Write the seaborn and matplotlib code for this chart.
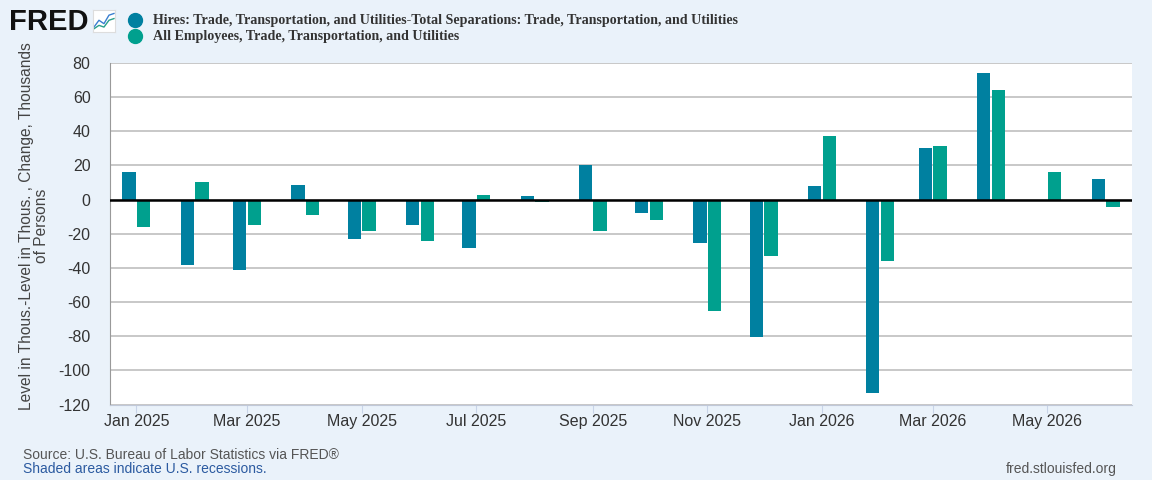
import numpy as np
import pandas as pd
import matplotlib
matplotlib.use("Agg")
import matplotlib.pyplot as plt
import matplotlib.dates as mdates
from matplotlib.lines import Line2D
import seaborn as sns

# monthly values (thousands of persons)
months = pd.date_range("2025-01-01", "2026-06-01", freq="MS")
hires_minus_seps = [16.3, -38.4, -41.4, 8.7, -23.3, -14.6, -28.5, 1.9, 20.4, -7.6,
                    -25.6, -80.2, 7.8, -113.0, 30.3, 74.0, np.nan, 12.2]
emp_change = [-16.3, 10.5, -14.6, -9.3, -18.6, -24.5, 2.5, -1.7, -18.6, -11.7,
              -65.2, -33.2, 37.3, -36.1, 31.5, 64.1, 16.3, -4.5]
tick_dates = ["2025-01-01", "2025-03-01", "2025-05-01", "2025-07-01", "2025-09-01",
              "2025-11-01", "2026-01-01", "2026-03-01", "2026-05-01"]
tick_labels = ["Jan 2025", "Mar 2025", "May 2025", "Jul 2025", "Sep 2025",
               "Nov 2025", "Jan 2026", "Mar 2026", "May 2026"]

s1 = "Hires: Trade, Transportation, and Utilities-Total Separations: Trade, Transportation, and Utilities"
s2 = "All Employees, Trade, Transportation, and Utilities"
colors = {s1: "#0080a0", s2: "#00a08e"}

x = mdates.date2num(months)
df = pd.DataFrame({
    "x": np.concatenate([x, x]),
    "value": hires_minus_seps + emp_change,
    "series": [s1] * len(x) + [s2] * len(x),
})

plt.rcParams["font.family"] = ["Liberation Sans", "DejaVu Sans"]
plt.rcParams["axes.unicode_minus"] = False

bg = "#eaf2fa"
fig = plt.figure(figsize=(11.52, 4.8), dpi=100, facecolor=bg)
ax = fig.add_axes([0.0955, 0.157, 0.887, 0.712])
ax.set_facecolor("white")

sns.barplot(data=df, x="x", y="value", hue="series", native_scale=True,
            palette=colors, width=0.56, gap=0.1, ax=ax, legend=False,
            saturation=1, linewidth=0)

ax.set_ylim(-120, 80)
ax.set_yticks(np.arange(-120, 81, 20))
ax.set_xlim(mdates.date2num(pd.Timestamp("2024-12-18")),
            mdates.date2num(pd.Timestamp("2026-06-15")))
ax.set_xticks(mdates.date2num(pd.to_datetime(tick_dates)))
ax.set_xticklabels(tick_labels)
ax.grid(axis="y", color="#c4c4c4", linewidth=1.3, zorder=0)
ax.grid(axis="x", visible=False)
ax.set_axisbelow(True)
ax.axhline(0, color="black", linewidth=1.8, zorder=3)
for side in ["top", "right"]:
    ax.spines[side].set_visible(False)
ax.spines["left"].set_color("#999999")
ax.spines["bottom"].set_color("#c0c8d8")
ax.tick_params(axis="y", length=0, labelsize=11.5, labelcolor="#333333", pad=14)
ax.tick_params(axis="x", length=6, color="#c8d4e8", labelsize=11.5,
               labelcolor="#333333", pad=1, direction="out")
ax.set_xlabel("")
ax.set_ylabel("Level in Thous.-Level in Thous. , Change, Thousands\nof Persons",
              fontsize=11.2, color="#444444", linespacing=0.95)
ax.yaxis.set_label_coords(-0.06, 0.522)

# header: logo and legend
fig.text(0.008, 0.955, "FRED", fontsize=21, fontweight="bold", color="#111111",
         va="center")
icon = fig.add_axes([0.0807, 0.933, 0.0191, 0.046])
icon.set_facecolor("white")
icon.set_xticks([])
icon.set_yticks([])
for sp in icon.spines.values():
    sp.set_color("#dddddd")
icon.plot([0, 1, 2, 3, 4], [0.1, 0.5, 0.3, 0.8, 0.9], color="#3a7fd0", lw=1)
icon.plot([0, 1, 2, 3, 4], [0.0, 0.2, 0.1, 0.5, 0.6], color="#2aa08a", lw=1)
icon.set_ylim(-0.2, 1.1)

for yy, lab in [(0.958, s1), (0.924, s2)]:
    fig.add_artist(Line2D([0.117], [yy], marker="o", markersize=10, linestyle="none",
                          color=colors[lab], transform=fig.transFigure))
    fig.text(0.133, yy, lab, fontsize=10.1, fontweight="bold", color="#333333",
             va="center", family="Liberation Serif")

# footer
fig.text(0.02, 0.053, "Source: U.S. Bureau of Labor Statistics via FRED\u00ae",
         fontsize=10, color="#555555", va="center")
fig.text(0.02, 0.022, "Shaded areas indicate U.S. recessions.",
         fontsize=10, color="#2b5aa0", va="center")
fig.text(0.969, 0.022, "fred.stlouisfed.org", fontsize=10, color="#555555",
         va="center", ha="right")

fig.savefig("out.png", dpi=100, facecolor=bg)
